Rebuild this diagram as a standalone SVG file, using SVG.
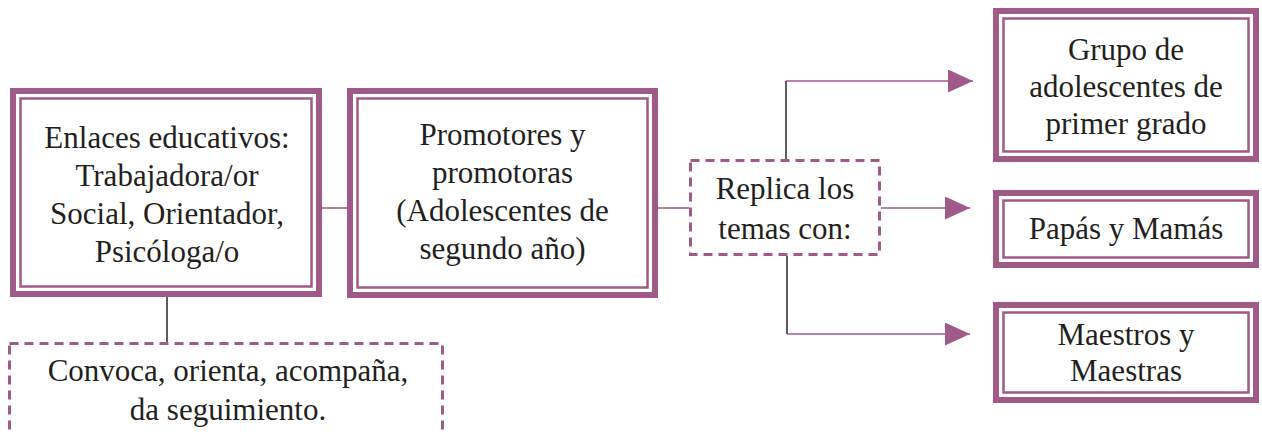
<svg xmlns="http://www.w3.org/2000/svg" width="1262" height="435" viewBox="0 0 1262 435">
<style>
.outer{fill:#fff;stroke:#a05a87;stroke-width:6}
.inner{fill:none;stroke:#a05a87;stroke-width:2.5}
.dash{fill:#fff;stroke:#a05a87;stroke-width:3;stroke-dasharray:9 6}
.t{font-size:31px;fill:#231f20;text-anchor:middle}
.lp{fill:none;stroke:#a05a87;stroke-width:1.6}
.ld{fill:none;stroke:#333;stroke-width:1.6}
</style>
<defs>
<marker id="ah" markerUnits="userSpaceOnUse" markerWidth="25" markerHeight="23" refX="25" refY="11.5" orient="auto">
<path d="M0,0 L25,11.5 L0,23 Z" fill="#a05a87"/>
</marker>
</defs>
<g id="connectors">
<line class="lp" x1="322" y1="208" x2="347" y2="208"/>
<line class="lp" x1="658" y1="208" x2="689" y2="208"/>
<line class="ld" x1="167" y1="297" x2="167" y2="342"/>
<line class="ld" x1="786" y1="159" x2="786" y2="81"/>
<line class="lp" x1="786" y1="81" x2="973" y2="81" marker-end="url(#ah)"/>
<line class="lp" x1="881" y1="208" x2="970" y2="208" marker-end="url(#ah)"/>
<line class="ld" x1="787" y1="256" x2="787" y2="334"/>
<line class="lp" x1="787" y1="334" x2="970" y2="334" marker-end="url(#ah)"/>
</g>
<g font-family="Liberation Serif, DejaVu Serif, serif">
<g id="enlaces">
<rect class="outer" x="13" y="91" width="306" height="203"/>
<rect class="inner" x="20.5" y="98.5" width="291" height="188"/>
<text class="t" x="167" y="148">Enlaces educativos:</text>
<text class="t" x="167" y="186">Trabajadora/or</text>
<text class="t" x="167" y="224">Social, Orientador,</text>
<text class="t" x="167" y="262">Psicóloga/o</text>
</g>
<g id="promotores">
<rect class="outer" x="350" y="91" width="305" height="204"/>
<rect class="inner" x="357.5" y="98.5" width="290" height="189"/>
<text class="t" x="502.5" y="145">Promotores y</text>
<text class="t" x="502.5" y="183">promotoras</text>
<text class="t" x="502.5" y="221">(Adolescentes de</text>
<text class="t" x="502.5" y="259">segundo año)</text>
</g>
<g id="convoca">
<rect class="dash" x="9.5" y="343.5" width="433" height="120"/>
<text class="t" x="228" y="381">Convoca, orienta, acompaña,</text>
<text class="t" x="228" y="420">da seguimiento.</text>
</g>
<g id="replica">
<rect class="dash" x="690.5" y="160.5" width="189" height="94"/>
<text class="t" x="785" y="199">Replica los</text>
<text class="t" x="785" y="239">temas con:</text>
</g>
<g id="grupo">
<rect class="outer" x="996" y="11" width="260" height="148"/>
<rect class="inner" x="1003.5" y="18.5" width="245" height="133"/>
<text class="t" x="1126" y="60">Grupo de</text>
<text class="t" x="1126" y="97">adolescentes de</text>
<text class="t" x="1126" y="134">primer grado</text>
</g>
<g id="papas">
<rect class="outer" x="996" y="193" width="260" height="72"/>
<rect class="inner" x="1003.5" y="200.5" width="245" height="57"/>
<text class="t" x="1126" y="239">Papás y Mamás</text>
</g>
<g id="maestros">
<rect class="outer" x="996" y="305" width="260" height="95"/>
<rect class="inner" x="1003.5" y="312.5" width="245" height="80"/>
<text class="t" x="1126" y="345">Maestros y</text>
<text class="t" x="1126" y="381">Maestras</text>
</g>
</g>
</svg>
